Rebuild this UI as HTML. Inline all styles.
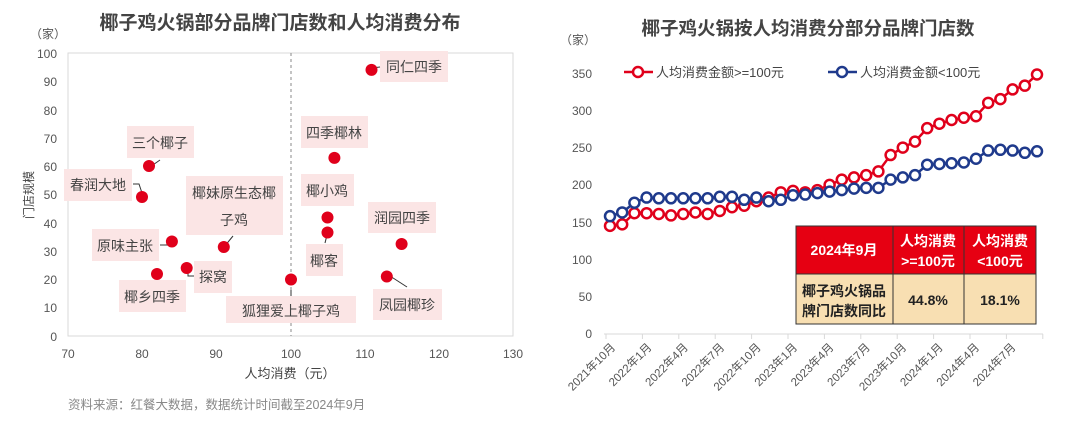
<!DOCTYPE html>
<html><head><meta charset="utf-8"><style>
body{margin:0;background:#fff;}
svg{display:block;font-family:"Liberation Sans","Noto Sans CJK SC",sans-serif;}
</style></head><body>
<svg width="1080" height="424" viewBox="0 0 1080 424" xmlns="http://www.w3.org/2000/svg">
<rect width="1080" height="424" fill="#fff"/>
<!-- LEFT -->
<text x="280" y="29" text-anchor="middle" font-size="19" font-weight="bold" fill="#444">椰子鸡火锅部分品牌门店数和人均消费分布</text>
<text x="48" y="38" text-anchor="middle" font-size="12" fill="#555">（家）</text>
<rect x="68" y="53" width="445" height="283" fill="none" stroke="#d9d9d9" stroke-width="1"/>
<g font-size="12" fill="#555" text-anchor="end">
<text x="57" y="58">100</text><text x="57" y="86">90</text><text x="57" y="115">80</text><text x="57" y="143">70</text><text x="57" y="171">60</text><text x="57" y="199">50</text><text x="57" y="228">40</text><text x="57" y="256">30</text><text x="57" y="284">20</text><text x="57" y="312">10</text><text x="57" y="341">0</text>
</g>
<g font-size="12" fill="#555" text-anchor="middle">
<text x="68" y="358">70</text><text x="142" y="358">80</text><text x="216" y="358">90</text><text x="291" y="358">100</text><text x="365" y="358">110</text><text x="439" y="358">120</text><text x="513" y="358">130</text>
</g>
<text x="290" y="378" text-anchor="middle" font-size="13" fill="#444">人均消费（元）</text>
<text x="33" y="195" text-anchor="middle" font-size="12" fill="#444" transform="rotate(-90 33 195)">门店规模</text>
<line x1="291" y1="53" x2="291" y2="336" stroke="#888" stroke-dasharray="3,3"/>
<g fill="#fbe5e5">
<rect x="380" y="51" width="68" height="31"/><rect x="301" y="116" width="67" height="32"/><rect x="127" y="126" width="67" height="32"/><rect x="64" y="169" width="68" height="32"/><rect x="186" y="176" width="97" height="59"/><rect x="301" y="174" width="53" height="32"/><rect x="368" y="202" width="68" height="31"/><rect x="92" y="229" width="67" height="32"/><rect x="306" y="244" width="37" height="32"/><rect x="194" y="261" width="38" height="32"/><rect x="119" y="280" width="67" height="32"/><rect x="226" y="296" width="130" height="27"/><rect x="373" y="289" width="69" height="31"/>
</g>
<g font-size="14" fill="#444" text-anchor="middle">
<text x="414" y="72">同仁四季</text><text x="334" y="138">四季椰林</text><text x="160" y="148">三个椰子</text><text x="98" y="190">春润大地</text><text x="234" y="198">椰妹原生态椰</text><text x="234" y="225">子鸡</text><text x="327" y="196">椰小鸡</text><text x="402" y="223">润园四季</text><text x="125" y="251">原味主张</text><text x="324" y="266">椰客</text><text x="213" y="282">探窝</text><text x="152" y="302">椰乡四季</text><text x="291" y="316">狐狸爱上椰子鸡</text><text x="407" y="310">凤园椰珍</text>
</g>
<g stroke="#333" stroke-width="1" fill="none">
<path d="M372 68 L380 67"/><path d="M150 167 L160 160"/><path d="M133 184 L139 184 L142 193"/><path d="M160 245 L170 245"/><path d="M224 247 L233 236"/><path d="M325 243 L327 235"/><path d="M188 272 L188 276 L194 276"/><path d="M291 290 L291 296"/><path d="M390 276 L407 287"/>
</g>
<g fill="#e0001b">
<circle cx="371.5" cy="69.9" r="6"/><circle cx="334.4" cy="157.9" r="6"/><circle cx="149" cy="166" r="6"/><circle cx="142" cy="197" r="6"/><circle cx="327.5" cy="217.5" r="6"/><circle cx="327.5" cy="232.5" r="6"/><circle cx="401.6" cy="244" r="6"/><circle cx="223.8" cy="247" r="6"/><circle cx="171.9" cy="241.5" r="6"/><circle cx="186.7" cy="268" r="6"/><circle cx="157" cy="274" r="6"/><circle cx="386.8" cy="276.5" r="6"/><circle cx="291" cy="279.5" r="6"/>
</g>
<text x="68" y="409" font-size="12.5" fill="#888">资料来源：红餐大数据，数据统计时间截至2024年9月</text>

<!-- RIGHT -->
<text x="808" y="35" text-anchor="middle" font-size="18.5" font-weight="bold" fill="#444">椰子鸡火锅按人均消费分部分品牌门店数</text>
<text x="578" y="44" text-anchor="middle" font-size="12" fill="#555">（家）</text>
<g font-size="12" fill="#555" text-anchor="end">
<text x="592" y="78">350</text><text x="592" y="115">300</text><text x="592" y="152">250</text><text x="592" y="189">200</text><text x="592" y="227">150</text><text x="592" y="264">100</text><text x="592" y="301">50</text><text x="592" y="338">0</text>
</g>
<line x1="604" y1="334" x2="1043" y2="334" stroke="#d9d9d9"/>
<g id="ticks" stroke="#d9d9d9"></g>
<g id="xl" font-size="11.5" fill="#555" text-anchor="end"></g>
<line x1="624" y1="72" x2="653" y2="72" stroke="#e0001b" stroke-width="2.5"/>
<circle cx="638" cy="72" r="5" fill="#fff" stroke="#e0001b" stroke-width="2.5"/>
<text x="656" y="77" font-size="13" fill="#444">人均消费金额&gt;=100元</text>
<line x1="828" y1="72" x2="857" y2="72" stroke="#1f3a8c" stroke-width="2.5"/>
<circle cx="842" cy="72" r="5" fill="#fff" stroke="#1f3a8c" stroke-width="2.5"/>
<text x="860" y="77" font-size="13" fill="#444">人均消费金额&lt;100元</text>
<g id="series"></g>
<!-- table -->
<rect x="796" y="226" width="240" height="48" fill="#e60012"/>
<rect x="796" y="274" width="240" height="50" fill="#f8dfb2"/>
<g stroke="#333" stroke-width="1" fill="none">
<rect x="796" y="226" width="240" height="98"/><line x1="796" y1="274" x2="1036" y2="274"/><line x1="893" y1="226" x2="893" y2="324"/><line x1="964" y1="226" x2="964" y2="324"/>
</g>
<g font-size="14" font-weight="bold" text-anchor="middle" fill="#fff">
<text x="844" y="255">2024年9月</text><text x="928" y="246">人均消费</text><text x="928" y="266">&gt;=100元</text><text x="1000" y="246">人均消费</text><text x="1000" y="266">&lt;100元</text>
</g>
<g font-size="14" font-weight="bold" text-anchor="middle" fill="#222">
<text x="844" y="296">椰子鸡火锅品</text><text x="844" y="316">牌门店数同比</text><text x="928" y="305">44.8%</text><text x="1000" y="305">18.1%</text>
</g>
</svg>
<script>
var ns="http://www.w3.org/2000/svg";
var red=[145,147,162,162,161,159,161,163,161,165,170,172,178,183,190,192,190,193,200,207,210,213,218,240,250,258,276,282,287,290,292,310,315,328,333,348];
var blue=[158,163,176,183,182,182,182,182,182,184,184,180,183,178,180,186,187,189,191,193,195,196,196,207,210,213,227,228,229,230,235,246,247,246,243,245];
function X(i){return 610+i*12.2;}function Y(v){return 334-v*0.7457;}
var g=document.getElementById("series");
function draw(d,c){var p="";d.forEach(function(v,i){p+=(i?"L":"M")+X(i)+" "+Y(v);});
var pa=document.createElementNS(ns,"path");pa.setAttribute("d",p);pa.setAttribute("stroke",c);pa.setAttribute("stroke-width","2.5");pa.setAttribute("fill","none");g.appendChild(pa);
d.forEach(function(v,i){var ci=document.createElementNS(ns,"circle");ci.setAttribute("cx",X(i));ci.setAttribute("cy",Y(v));ci.setAttribute("r","5");ci.setAttribute("fill","#fff");ci.setAttribute("stroke",c);ci.setAttribute("stroke-width","2.5");g.appendChild(ci);});}
draw(red,"#e0001b");draw(blue,"#1f3a8c");
var labs=["2021年10月","2022年1月","2022年4月","2022年7月","2022年10月","2023年1月","2023年4月","2023年7月","2023年10月","2024年1月","2024年4月","2024年7月"];
var t=document.getElementById("ticks"),xl=document.getElementById("xl");
for(var k=0;k<=12;k++){var x=606+k*36.4;var l=document.createElementNS(ns,"line");l.setAttribute("x1",x);l.setAttribute("x2",x);l.setAttribute("y1",334);l.setAttribute("y2",339);t.appendChild(l);
if(k<12){var tx=document.createElementNS(ns,"text");var ex=x+10,ey=348;tx.setAttribute("x",ex);tx.setAttribute("y",ey);tx.setAttribute("transform","rotate(-45 "+ex+" "+ey+")");tx.textContent=labs[k];xl.appendChild(tx);}}
</script>
</body></html>
